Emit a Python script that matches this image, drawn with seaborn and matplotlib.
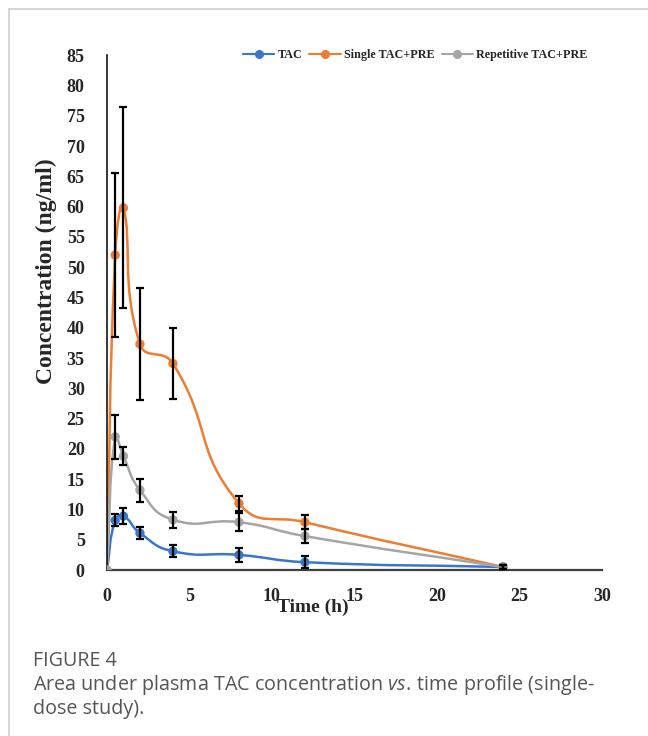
import numpy as np
import matplotlib
matplotlib.use("Agg")
import matplotlib.pyplot as plt
from matplotlib.path import Path
from matplotlib.patches import PathPatch
from matplotlib.lines import Line2D
import seaborn as sns
import pandas as pd

# ---- data ----
time_h = [0, 0.5, 1, 2, 4, 8, 12, 24]

tac = [0, 8.2, 8.9, 6.1, 3.1, 2.5, 1.3, 0.5]
tac_err = [0, 1.0, 1.3, 1.0, 1.0, 1.1, 1.0, 0.3]

single = [0, 52.0, 59.8, 37.3, 34.1, 11.0, 7.9, 0.5]
single_err = [0, 13.6, 16.6, 9.3, 5.8, 1.3, 1.2, 0.3]

repetitive = [0, 22.0, 18.8, 13.2, 8.3, 7.9, 5.6, 0.5]
repetitive_err = [0, 3.6, 1.5, 1.9, 1.3, 1.5, 1.2, 0.3]

series_names = ["TAC", "Single TAC+PRE", "Repetitive TAC+PRE"]
colors = ["#3a77cc", "#ED7D31", "#A5A5A5"]

x_ticks = [0, 5, 10, 15, 20, 25, 30]
y_ticks = list(range(0, 90, 5))

# long table for seaborn
d_conc = pd.DataFrame({
    "time": time_h * 3,
    "conc": tac + single + repetitive,
    "err": tac_err + single_err + repetitive_err,
    "group": [g for g in series_names for _ in time_h],
})

sns.set_style("white")
plt.rcParams["font.family"] = ["Liberation Serif", "DejaVu Serif"]
plt.rcParams["mathtext.fontset"] = "custom"
plt.rcParams["mathtext.rm"] = "Open Sans"
plt.rcParams["mathtext.it"] = "Open Sans:italic"

fig = plt.figure(figsize=(6.48, 7.36), dpi=100)
ax = fig.add_axes([0.165, 0.2255, 0.764, 0.6995])
ax.set_xlim(0, 30)
ax.set_ylim(0, 85)


def smooth_path(x, y, tension=0.5):
    # Excel-like smoothed line: tangents scaled by on-screen segment lengths
    pts = np.column_stack([x, y]).astype(float)
    scr = ax.transData.transform(pts)
    n = len(pts)
    d = np.r_[np.hypot(*np.diff(scr, axis=0).T), 0.0]
    verts = [pts[0]]
    codes = [Path.MOVETO]
    for i in range(n - 1):
        p0 = pts[max(i - 1, 0)]
        p1 = pts[i]
        p2 = pts[i + 1]
        p3 = pts[min(i + 2, n - 1)]
        d01 = d[i - 1] if i > 0 else 0.0
        d12 = d[i]
        d23 = d[i + 1] if i + 1 < n - 1 else 0.0
        c1 = p1 + tension * (p2 - p0) * d12 / (d01 + d12)
        c2 = p2 - tension * (p3 - p1) * d12 / (d12 + d23)
        verts += [c1, c2, p2]
        codes += [Path.CURVE4] * 3
    return Path(verts, codes)


for name, col in zip(series_names, colors):
    sub = d_conc[d_conc["group"] == name]
    ax.add_patch(PathPatch(smooth_path(sub["time"], sub["conc"]),
                           facecolor="none", edgecolor=col, lw=1.8, zorder=2))

sns.scatterplot(x="time", y="conc", hue="group", data=d_conc,
                palette=colors, hue_order=series_names, s=45,
                edgecolor="none", legend=False, ax=ax, zorder=3)

for name in series_names:
    sub = d_conc[(d_conc["group"] == name) & (d_conc["time"] > 0)]
    ax.errorbar(sub["time"], sub["conc"], yerr=sub["err"], fmt="none",
                ecolor="black", elinewidth=1.6, capsize=3.2, capthick=1.6,
                zorder=4)

ax.set_xlim(0, 30)
ax.set_ylim(0, 85)
ax.set_xticks(x_ticks)
ax.set_yticks(y_ticks)
ax.tick_params(axis="both", length=0, labelsize=13)
ax.tick_params(axis="x", pad=13)
ax.tick_params(axis="y", pad=16)
for lab in ax.get_xticklabels() + ax.get_yticklabels():
    lab.set_fontweight("bold")

sns.despine(ax=ax)
ax.spines["left"].set_color("black")
ax.spines["left"].set_linewidth(1.1)
ax.spines["bottom"].set_color("#404040")
ax.spines["bottom"].set_linewidth(1.6)

ax.set_xlabel("Time (h)", fontsize=14, fontweight="bold")
ax.xaxis.set_label_coords(0.415, -0.056)
ax.set_ylabel("Concentration (ng/ml)", fontsize=17, fontweight="bold")
ax.yaxis.set_label_coords(-0.1, 0.58)

handles = [Line2D([], [], color=c, marker="o", markersize=5.5, lw=1.5)
           for c in colors]
ax.legend(handles, series_names, loc="center right", bbox_to_anchor=(0.983, 1.0),
          ncol=3, frameon=False, handlelength=2.6, handletextpad=0.25,
          columnspacing=0.6, borderpad=0,
          prop={"family": "Liberation Serif", "weight": "bold", "size": 8.7})

# journal figure frame (top and left rules)
fig.add_artist(Line2D([9 / 648, 1.0], [1 - 9 / 736, 1 - 9 / 736],
                      color="#d0d0d0", lw=1.2, transform=fig.transFigure))
fig.add_artist(Line2D([9 / 648, 9 / 648], [0, 1 - 9 / 736],
                      color="#d0d0d0", lw=1.2, transform=fig.transFigure))

fig.text(33 / 648, 1 - 661 / 736, "FIGURE 4", family="Open Sans",
         fontsize=14.2, color="#555555", va="center", ha="left")
fig.text(33 / 648, 1 - 685 / 736,
         "Area under plasma TAC concentration $\\mathit{vs.}\\,$time profile (single-",
         family="Open Sans", fontsize=14.2, color="#555555", va="center", ha="left")
fig.text(33 / 648, 1 - 709 / 736, "dose study).", family="Open Sans",
         fontsize=14.2, color="#555555", va="center", ha="left")

fig.savefig("out.png", dpi=100)
